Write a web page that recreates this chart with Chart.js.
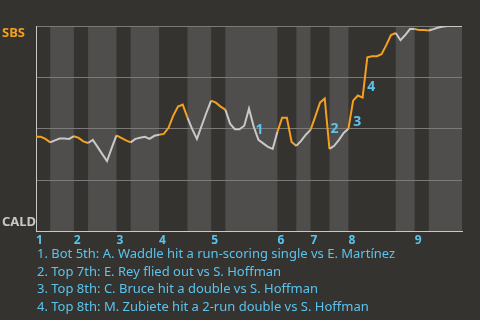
<!DOCTYPE html>
<html>
<head>
<meta charset="utf-8">
<script src="https://cdn.jsdelivr.net/npm/chart.js@4.4.1/dist/chart.umd.min.js"></script>
<style>
  html, body { margin: 0; padding: 0; background: #353330; width: 480px; height: 320px; overflow: hidden; }
  #wrap { position: relative; width: 480px; height: 320px; }
  #chart { position: absolute; left: 0; top: 0; }
  #notes { position: absolute; left: 37px; top: 245px; color: #5bc4ee; font: 13px "Noto Sans", sans-serif; line-height: 17.7px; white-space: nowrap; }
</style>
</head>
<body>
<div id="wrap">
  <canvas id="chart" width="480" height="253"></canvas>
  <div id="notes"></div>
</div>
<script>
// win probability for SBS, one value per play
const winProb = [
  46.1, 46.1, 45.1, 43.4, 44.4, 45.3, 45.3, 45.1, 46.4, 45.6,
  43.9, 43.1, 44.6, 41.2, 37.7, 34.3, 40.7, 46.8, 45.6, 44.4,
  43.4, 45.1, 45.6, 46.1, 45.1, 46.6, 47.1, 47.5, 50.5, 56.4,
  60.8, 61.8, 55.4, 49.8, 45.1, 51.5, 57.8, 63.7, 62.7, 60.8,
  59.3, 52.5, 49.8, 49.8, 51.5, 59.8, 51.0, 44.6, 42.9, 41.2,
  40.2, 48.5, 55.4, 55.4, 43.6, 41.7, 44.1, 47.1, 49.5, 55.9,
  62.7, 64.7, 40.2, 41.7, 44.6, 48.0, 50.0, 63.7, 66.2, 65.2,
  84.8, 85.3, 85.3, 86.3, 90.7, 95.6, 96.6, 93.1, 95.6, 98.5,
  98.5, 98.0, 98.0, 97.8, 98.5, 99.3, 99.8, 100, 100, 100,
  100
];
// first play of each half inning
const topStarts = [0, 8, 17, 26, 37, 51, 58, 66, 80];
const bottomStarts = [3, 11, 20, 32, 40, 55, 62, 76, 83];
const inningLabels = ["1", "2", "3", "4", "5", "6", "7", "8", "9"];
const teamTop = "SBS";
const teamBottom = "CALD";
const eventPlays = [47, 62, 67, 70];
const eventNotes = [
  "1. Bot 5th: A. Waddle hit a run-scoring single vs E. Martínez",
  "2. Top 7th: E. Rey flied out vs S. Hoffman",
  "3. Top 8th: C. Bruce hit a double vs S. Hoffman",
  "4. Top 8th: M. Zubiete hit a 2-run double vs S. Hoffman"
];

const ORANGE = "#f5a01f";
const WHITE = "#c8c8c8";
const BLUE = "#5bc4ee";
const lastPlay = winProb.length - 1;

document.getElementById("notes").innerHTML = eventNotes.map(n => "<div>" + n + "</div>").join("");

// segment starting at play i: SBS batting (top half) or not
function isTopHalf(i) {
  const lastTop = Math.max(...topStarts.filter(s => s <= i));
  const lastBottom = Math.max(-1, ...bottomStarts.filter(s => s <= i));
  return lastTop > lastBottom;
}

const bandsPlugin = {
  id: "bands",
  beforeDraw(chart) {
    const { ctx, chartArea: a, scales: { x } } = chart;
    ctx.save();
    ctx.fillStyle = "#4f4e4c";
    bottomStarts.forEach((s, i) => {
      const end = i + 1 < topStarts.length ? topStarts[i + 1] : lastPlay;
      const x0 = x.getPixelForValue(s), x1 = x.getPixelForValue(end);
      ctx.fillRect(x0, a.top, x1 - x0, a.bottom - a.top);
    });
    ctx.restore();
  },
  afterDraw(chart) {
    const { ctx, chartArea: a, scales: { x, y } } = chart;
    ctx.save();
    ctx.font = "bold 13px 'Noto Sans', sans-serif";
    ctx.textBaseline = "middle";
    ctx.textAlign = "left";
    ctx.fillStyle = ORANGE;
    ctx.fillText(teamTop, 2, a.top + 7);
    ctx.fillStyle = WHITE;
    ctx.fillText(teamBottom, 2, a.bottom - 9);

    const offsets = [[1, -10], [5, -20], [4, 21], [4, 30]];
    ctx.font = "bold 14px 'Noto Sans', sans-serif";
    ctx.textAlign = "center";
    ctx.fillStyle = BLUE;
    eventPlays.forEach((p, i) => {
      const px = x.getPixelForValue(p), py = y.getPixelForValue(winProb[p]);
      ctx.fillText(String(i + 1), px + offsets[i][0], py + offsets[i][1]);
    });
    ctx.restore();
  }
};

new Chart(document.getElementById("chart").getContext("2d"), {
  type: "line",
  data: {
    datasets: [{
      data: winProb.map((v, i) => ({ x: i, y: v })),
      borderWidth: 2,
      pointRadius: 0,
      tension: 0,
      borderColor: WHITE,
      segment: {
        borderColor: c => isTopHalf(c.p0DataIndex) ? ORANGE : WHITE
      }
    }]
  },
  options: {
    responsive: false,
    animation: false,
    layout: { padding: { left: 36, top: 26, right: 18, bottom: 3 } },
    plugins: { legend: { display: false }, tooltip: { enabled: false } },
    scales: {
      x: {
        type: "linear",
        min: 0,
        max: lastPlay,
        afterBuildTicks: s => { s.ticks = topStarts.map(v => ({ value: v })); },
        ticks: {
          color: BLUE,
          align: "start",
          padding: 2,
          font: { family: "'Noto Sans', sans-serif", size: 12, weight: "bold" },
          callback: (v, i) => inningLabels[i]
        },
        grid: { display: false, drawTicks: false, tickLength: 0 },
        border: { display: true, color: WHITE, width: 1 }
      },
      y: {
        min: 0,
        max: 100,
        afterBuildTicks: s => { s.ticks = [0, 25, 50, 75, 100].map(v => ({ value: v })); },
        ticks: { display: false },
        grid: { color: "#7a7a78", drawTicks: false, tickLength: 0 },
        border: { display: true, color: WHITE, width: 1 }
      }
    }
  },
  plugins: [bandsPlugin]
});
</script>
</body>
</html>
